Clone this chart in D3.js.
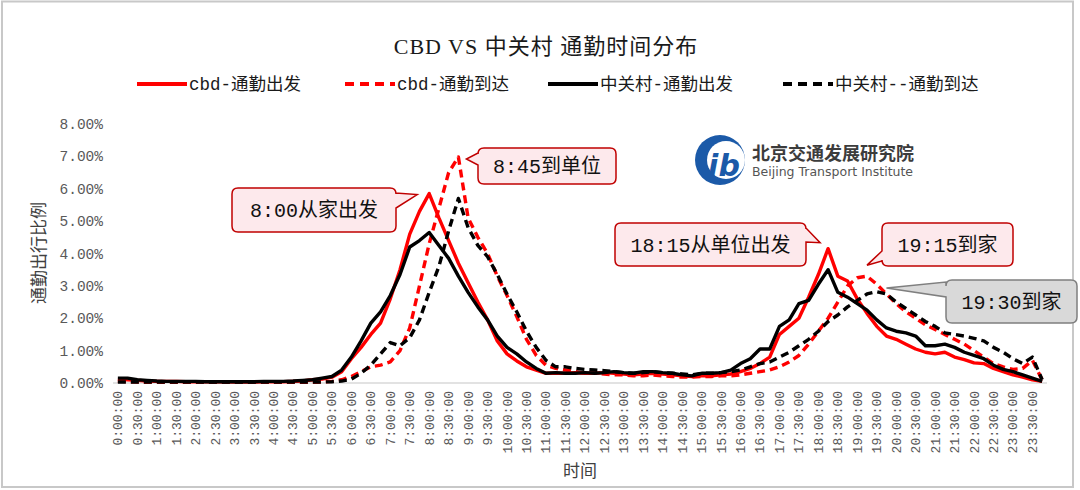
<!DOCTYPE html>
<html><head><meta charset="utf-8">
<script src="https://cdn.jsdelivr.net/npm/d3@7/dist/d3.min.js"></script>
<style>body{margin:0;background:#fff}svg{display:block}</style>
</head><body>
<svg id="c" width="1080" height="490"></svg>
<script>
const tickLabels = ["0:00:00","0:30:00","1:00:00","1:30:00","2:00:00","2:30:00","3:00:00","3:30:00","4:00:00","4:30:00","5:00:00","5:30:00","6:00:00","6:30:00","7:00:00","7:30:00","8:00:00","8:30:00","9:00:00","9:30:00","10:00:00","10:30:00","11:00:00","11:30:00","12:00:00","12:30:00","13:00:00","13:30:00","14:00:00","14:30:00","15:00:00","15:30:00","16:00:00","16:30:00","17:00:00","17:30:00","18:00:00","18:30:00","19:00:00","19:30:00","20:00:00","20:30:00","21:00:00","21:30:00","22:00:00","22:30:00","23:00:00","23:30:00"];
const yTicks = [0,1,2,3,4,5,6,7,8];
const seriesNames = ["cbd-通勤出发","cbd-通勤到达","中关村-通勤出发","中关村--通勤到达"];
const cbdDepart = [0.12,0.1,0.08,0.06,0.05,0.05,0.05,0.04,0.04,0.04,0.04,0.04,0.03,0.03,0.03,0.04,0.04,0.04,0.05,0.06,
0.1,0.12,0.18,0.35,0.75,1.1,1.5,1.85,2.6,3.5,4.6,5.3,5.85,5.1,4.4,3.7,3.1,2.5,1.95,1.3,0.9,0.68,0.5,0.4,0.3,
0.3,0.3,0.32,0.3,0.3,0.32,0.3,0.28,0.25,0.28,0.3,0.28,0.25,0.22,0.2,0.22,0.22,0.25,0.28,
0.35,0.45,0.6,0.8,1.5,1.75,2.0,2.65,3.35,4.15,3.3,3.15,2.6,2.15,1.75,1.45,1.35,1.2,1.05,0.95,0.9,0.95,0.8,0.72,0.62,0.6,0.45,0.35,0.25,0.18,0.1,0.05];
const cbdArrive = [0.05,0.04,0.03,0.02,0.02,0.02,0.02,0.02,0.02,0.02,0.02,0.02,0.02,0.02,0.02,0.02,0.02,0.02,0.02,0.02,0.02,0.03,
0.05,0.1,0.2,0.35,0.5,0.55,0.65,1.0,1.7,3.0,4.3,5.4,6.5,6.98,5.1,4.5,4.0,3.3,2.7,2.05,1.35,0.85,0.55,
0.45,0.4,0.35,0.3,0.3,0.28,0.25,0.25,0.22,0.22,0.25,0.22,0.2,0.18,0.18,0.2,0.2,0.22,0.22,
0.25,0.3,0.35,0.4,0.5,0.65,0.85,1.2,1.6,2.0,2.5,3.0,3.25,3.3,3.05,2.75,2.45,2.2,2.0,1.8,1.65,1.5,1.35,1.2,1.0,0.8,0.6,0.5,0.42,0.45,0.7,0.1];
const zgcDepart = [0.15,0.15,0.1,0.08,0.06,0.05,0.05,0.05,0.05,0.04,0.04,0.04,0.04,0.04,0.04,0.05,0.05,0.05,0.06,0.08,
0.1,0.15,0.2,0.4,0.8,1.3,1.85,2.2,2.7,3.35,4.2,4.4,4.65,4.25,3.85,3.3,2.8,2.35,1.95,1.45,1.1,0.9,0.65,0.45,0.3,
0.32,0.3,0.3,0.32,0.3,0.32,0.35,0.32,0.3,0.35,0.35,0.32,0.3,0.25,0.22,0.3,0.3,0.32,0.4,
0.6,0.75,1.05,1.05,1.75,1.95,2.45,2.55,3.05,3.5,2.8,2.65,2.45,2.25,1.95,1.7,1.6,1.55,1.45,1.15,1.15,1.2,1.1,0.95,0.85,0.75,0.55,0.42,0.35,0.25,0.15,0.05];
const zgcArrive = [0.03,0.03,0.03,0.03,0.03,0.03,0.03,0.03,0.03,0.03,0.03,0.03,0.03,0.03,0.03,0.03,0.03,0.03,0.03,0.03,0.03,0.03,
0.04,0.06,0.12,0.3,0.55,0.9,1.25,1.15,1.4,1.95,2.8,3.6,4.7,5.7,4.8,4.25,3.9,3.35,2.75,2.2,1.6,1.1,0.7,
0.5,0.5,0.45,0.42,0.4,0.38,0.35,0.32,0.3,0.32,0.35,0.32,0.3,0.28,0.25,0.3,0.3,0.32,0.35,
0.4,0.5,0.6,0.65,0.8,0.95,1.15,1.35,1.6,1.9,2.1,2.35,2.55,2.75,2.82,2.75,2.5,2.3,2.1,1.9,1.75,1.55,1.5,1.45,1.38,1.3,1.1,0.95,0.75,0.6,0.8,0.1];

const svg = d3.select("#c");
const CJK = "'Noto Sans CJK SC','Noto Sans',sans-serif";
const SERIF = "'Liberation Serif','Noto Sans CJK SC',serif";
const MONO = "'Liberation Mono','Noto Sans CJK SC',monospace";

// outer border
svg.append("rect").attr("x",2).attr("y",1.5).attr("width",1071).attr("height",485.5)
  .attr("fill","none").attr("stroke","#c8c8c8").attr("stroke-width",2);

const N = cbdDepart.length;
const cats = d3.range(N);
const x = d3.scaleBand().domain(cats).range([113,1047]).paddingInner(0).paddingOuter(0);
const xc = i => x(i) + x.bandwidth()/2;
const y = d3.scaleLinear().domain([0,8]).range([383,124]);

// title
svg.append("text").attr("x",546).attr("y",54).attr("text-anchor","middle")
  .attr("font-family",SERIF).attr("font-size",22).attr("letter-spacing",1).attr("fill","#1a1a1a")
  .text("CBD VS 中关村 通勤时间分布");

// y axis labels
svg.append("g").selectAll("text").data(yTicks).join("text")
  .attr("x",103).attr("y",d=>y(d)+5).attr("text-anchor","end")
  .attr("font-family",MONO).attr("font-size",14.5).attr("fill","#595959")
  .text(d=>d.toFixed(2)+"%");

// x axis line
svg.append("line").attr("x1",113).attr("x2",1047).attr("y1",y(0)).attr("y2",y(0))
  .attr("stroke","#d9d9d9").attr("stroke-width",1.5);

// x tick labels
svg.append("g").selectAll("text").data(tickLabels).join("text")
  .attr("transform",(d,i)=>`translate(${xc(i*2)+4.5},391) rotate(-90)`)
  .attr("text-anchor","end")
  .attr("font-family",MONO).attr("font-size",13).attr("fill","#595959")
  .text(d=>d);

// axis titles
svg.append("text").attr("transform","translate(45,253) rotate(-90)").attr("text-anchor","middle")
  .attr("font-family",CJK).attr("font-size",17).attr("fill","#404040").text("通勤出行比例");
svg.append("text").attr("x",580).attr("y",477).attr("text-anchor","middle")
  .attr("font-family",CJK).attr("font-size",17).attr("fill","#404040").text("时间");

// lines
const series = [
  {v:cbdDepart, c:"#ff0000", dash:null},
  {v:cbdArrive, c:"#ff0000", dash:"8,5"},
  {v:zgcDepart, c:"#000000", dash:null},
  {v:zgcArrive, c:"#000000", dash:"8,5"}
];
const line = d3.line().x((d,i)=>xc(i)).y(d=>y(d));
series.forEach(s=>{
  svg.append("path").datum(s.v).attr("d",line).attr("fill","none")
    .attr("stroke",s.c).attr("stroke-width",3.4).attr("stroke-linejoin","round")
    .attr("stroke-dasharray",s.dash);
});

// legend
const legX = [137,345,548,783];
series.forEach((s,i)=>{
  svg.append("line").attr("x1",legX[i]).attr("x2",legX[i]+50).attr("y1",84).attr("y2",84)
    .attr("stroke",s.c).attr("stroke-width",4).attr("stroke-dasharray",s.dash?"9,6":null);
  svg.append("text").attr("x",legX[i]+52).attr("y",90)
    .attr("font-family",MONO).attr("font-size",17.5).attr("fill","#1a1a1a").text(seriesNames[i]);
});

// callouts
function callout(bx,by,w,h,side,b1,b2,tx,ty,fill,stroke,label){
  const r=6;
  let p=`M${bx+r},${by} L${bx+w-r},${by} Q${bx+w},${by} ${bx+w},${by+r}`;
  if(side==="right") p+=` L${bx+w},${by+b1} L${tx},${ty} L${bx+w},${by+b2}`;
  p+=` L${bx+w},${by+h-r} Q${bx+w},${by+h} ${bx+w-r},${by+h} L${bx+r},${by+h} Q${bx},${by+h} ${bx},${by+h-r}`;
  if(side==="left") p+=` L${bx},${by+b2} L${tx},${ty} L${bx},${by+b1}`;
  p+=` L${bx},${by+r} Q${bx},${by} ${bx+r},${by} Z`;
  svg.append("path").attr("d",p).attr("fill",fill).attr("stroke",stroke).attr("stroke-width",1.5);
  svg.append("text").attr("x",bx+w/2).attr("y",by+h/2+7).attr("text-anchor","middle")
    .attr("font-family",MONO).attr("font-size",20).attr("fill","#111").text(label);
}
const pink="#fde9ec", dred="#c00000";
callout(232,188,164,44,"right",5,20, xc(32)-12, y(cbdDepart[32])+1, pink,dred,"8:00从家出发");
callout(478,148,138,36,"left",5,17, xc(35)+8, y(cbdArrive[35])+2, pink,dred,"8:45到单位");
callout(615,223,191,43,"right",5,19, xc(73)-8, y(cbdDepart[73])-6, pink,dred,"18:15从单位出发");
callout(882,223,131,43,"left",28,38, xc(77), y(cbdArrive[77])-11, pink,dred,"19:15到家");
callout(946,280,131,43,"left",2,17, xc(79), y(zgcArrive[79])-6, "#d9d9d9","#7f7f7f","19:30到家");

// logo
const lg = svg.append("g");
lg.append("circle").attr("cx",720).attr("cy",160).attr("r",25).attr("fill","#1b5aa8");
lg.append("circle").attr("cx",726).attr("cy",160).attr("r",19).attr("fill","#fff");
lg.append("text").attr("x",724).attr("y",176).attr("text-anchor","middle")
  .attr("font-family","'DejaVu Sans',sans-serif").attr("font-weight","bold").attr("font-style","italic")
  .attr("font-size",30).attr("fill","#1b5aa8").text("ib");
lg.append("text").attr("x",752).attr("y",160).attr("font-family",CJK).attr("font-weight","bold")
  .attr("font-size",18).attr("fill","#3c3c3c").text("北京交通发展研究院");
lg.append("text").attr("x",752).attr("y",176).attr("font-family","'DejaVu Sans',sans-serif")
  .attr("font-size",12.5).attr("fill","#555").text("Beijing Transport Institute");
</script>
</body></html>
